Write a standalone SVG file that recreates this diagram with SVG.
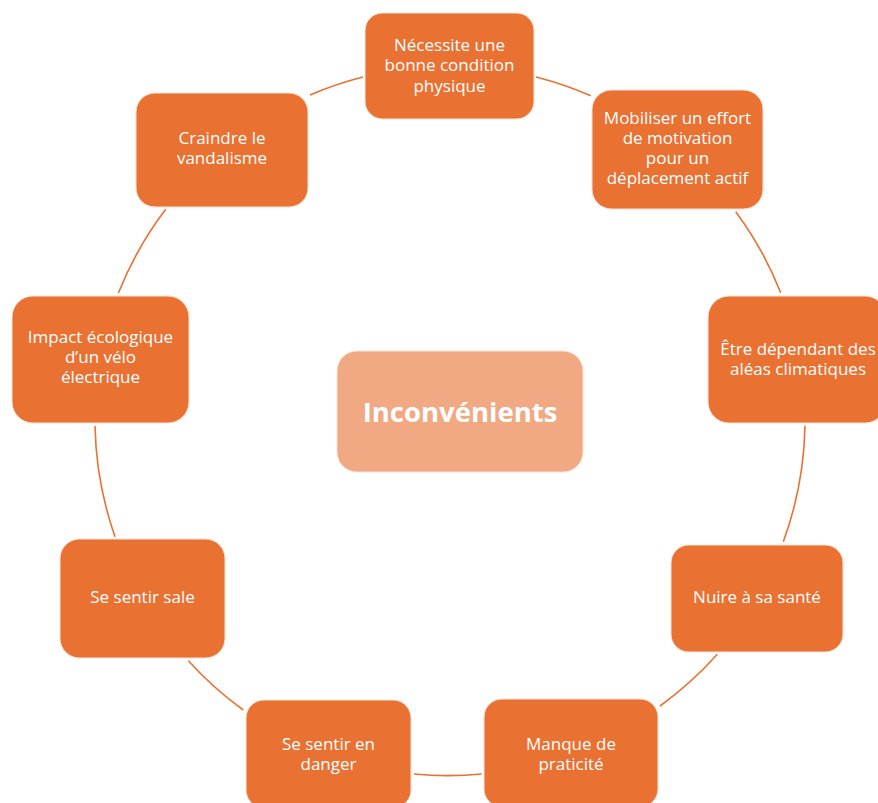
<svg xmlns="http://www.w3.org/2000/svg" width="878" height="803" viewBox="0 0 878 803">
<style>
.box{fill:#E97132;stroke:#FBE3D6;stroke-width:1}
.center{fill:#F1A983;stroke:#FBE3D6;stroke-width:1}
.t{font-family:"Open Sans","Noto Sans",sans-serif;font-size:17px;fill:#FFFFFF;text-anchor:middle}
.tc{font-family:"Open Sans","Noto Sans",sans-serif;font-size:27.5px;font-weight:bold;fill:#FFFFFF;text-anchor:middle}
.arc{fill:none;stroke:#E97132;stroke-width:1.6}
</style>
<rect width="878" height="803" fill="#FFFFFF"/>
<g id="connectors">
<path class="arc" d="M310,95 A355,355 0 0 1 363,77"/>
<path class="arc" d="M536,77 A355,355 0 0 1 590.7,95.7"/>
<path class="arc" d="M735.7,211.7 A355,355 0 0 1 780.7,292.7"/>
<path class="arc" d="M805,425.7 A355,355 0 0 1 783.3,541.7"/>
<path class="arc" d="M717.3,654.3 A355,355 0 0 1 660,706"/>
<path class="arc" d="M481.7,774 A355,355 0 0 1 414,774"/>
<path class="arc" d="M243.3,710 A355,355 0 0 1 188.3,660.7"/>
<path class="arc" d="M115,536.7 A355,355 0 0 1 95,426"/>
<path class="arc" d="M118.3,293.3 A355,355 0 0 1 165.7,209.3"/>
</g>
<g id="center">
<rect class="center" x="337" y="351" width="246" height="121" rx="20"/>
<text class="tc" x="460" y="422">Inconvénients</text>
</g>
<g id="n1">
<rect class="box" x="365" y="13" width="169" height="106" rx="17.5"/>
<text class="t" x="449.5" y="50.5">Nécessite une</text>
<text class="t" x="449.5" y="71">bonne condition</text>
<text class="t" x="449.5" y="91.5">physique</text>
</g>
<g id="n2">
<rect class="box" x="592" y="90" width="171" height="119" rx="19.5"/>
<text class="t" x="677.5" y="123.5">Mobiliser un effort</text>
<text class="t" x="677.5" y="143.8">de motivation</text>
<text class="t" x="677.5" y="164">pour un</text>
<text class="t" x="677.5" y="184.3">déplacement actif</text>
</g>
<g id="n3">
<rect class="box" x="708" y="296" width="178" height="127" rx="21"/>
<text class="t" x="798" y="354.5">Être dépendant des</text>
<text class="t" x="798" y="374.5">aléas climatiques</text>
</g>
<g id="n4">
<rect class="box" x="671" y="545" width="172" height="107" rx="17.8"/>
<text class="t" x="757" y="602.7">Nuire à sa santé</text>
</g>
<g id="n5">
<rect class="box" x="484" y="699" width="174" height="108" rx="18"/>
<text class="t" x="571" y="749.5">Manque de</text>
<text class="t" x="571" y="770">praticité</text>
</g>
<g id="n6">
<rect class="box" x="246" y="700" width="165" height="108" rx="18"/>
<text class="t" x="328.5" y="749.5">Se sentir en</text>
<text class="t" x="328.5" y="770">danger</text>
</g>
<g id="n7">
<rect class="box" x="60" y="539" width="165" height="119" rx="19.5"/>
<text class="t" x="142.5" y="602.7">Se sentir sale</text>
</g>
<g id="n8">
<rect class="box" x="12" y="296" width="177" height="127" rx="21"/>
<text class="t" x="100.5" y="343.3">Impact écologique</text>
<text class="t" x="100.5" y="363.3">d’un vélo</text>
<text class="t" x="100.5" y="383.3">électrique</text>
</g>
<g id="n9">
<rect class="box" x="136" y="93" width="172" height="114" rx="19"/>
<text class="t" x="222" y="144.3">Craindre le</text>
<text class="t" x="222" y="164.3">vandalisme</text>
</g>
</svg>
